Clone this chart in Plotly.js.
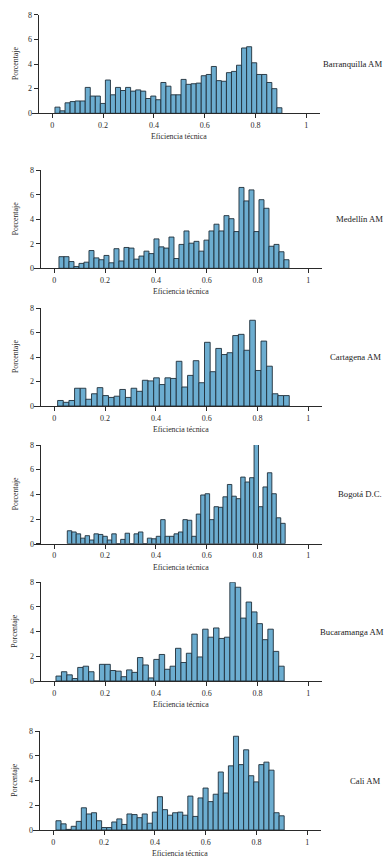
<!DOCTYPE html>
<html>
<head>
<meta charset="utf-8">
<script src="https://cdn.plot.ly/plotly-3.0.1.min.js"></script>
<style>html,body{margin:0;padding:0;background:#fff}#chart{width:392px;height:864px}</style>
</head>
<body>
<div id="chart"></div>
<script>
// ---- data (percent per bin) ----
const regions = ["Barranquilla AM", "Medellín AM", "Cartagena AM", "Bogotá D.C.", "Bucaramanga AM", "Cali AM"];
const barranquilla = [0.5,0.2,0.85,0.95,1.0,1.0,2.1,1.4,1.4,0.8,2.7,1.5,2.1,1.85,2.1,1.8,1.9,1.8,1.2,1.4,1.1,2.5,2.2,1.5,1.5,2.75,2.35,2.4,2.45,3.05,3.15,3.8,2.65,2.6,3.3,3.4,3.9,5.3,5.4,4.1,3.15,3.15,2.5,2.0,0.45];
const medellin = [0.95,0.95,0.55,0.15,0.4,0.5,1.45,0.85,0.7,1.05,0.45,1.6,0.6,1.7,1.65,0.75,1.0,1.4,1.2,2.4,1.75,1.65,2.55,0.8,1.95,3.05,2.05,2.2,1.4,2.3,3.05,3.6,3.05,4.3,4.05,3.0,6.6,5.5,6.4,3.0,5.6,4.9,1.8,1.95,1.35,0.7];
const cartagena = [0.45,0.3,0.45,1.45,1.45,0.55,1.0,1.5,0.85,0.7,0.8,1.35,0.7,1.45,1.2,2.1,2.05,2.3,1.75,2.3,2.25,3.65,1.55,2.5,3.7,1.9,5.2,2.8,4.7,4.2,4.35,5.75,5.85,4.55,7.0,2.9,5.3,3.25,1.0,0.85,0.85];
const bogota = [1.05,0.95,0.8,0.45,0.65,0.3,0.8,0.75,0.6,0.3,0.8,0,0.35,0.85,0,0.8,0.95,0,0.45,0.4,0.6,1.95,0.6,0.6,0.8,0.95,1.95,1.9,0.6,2.4,3.95,4.05,1.95,3.0,2.95,3.8,4.8,3.85,3.65,5.4,5.0,5.35,8.25,3.0,4.6,5.75,4.05,2.1,1.65];
const bucaramanga = [0.4,0.75,0.5,0.2,1.1,1.2,0.75,0,1.35,1.35,0.85,0.8,0.35,0.9,0.7,1.9,1.3,0.25,1.75,2.15,0.95,1.2,2.65,1.5,2.25,3.8,1.95,4.2,3.55,4.3,3.45,3.55,8.0,7.6,5.1,6.4,5.6,4.65,3.35,4.2,2.4,1.2];
const cali = [0.75,0.5,0.05,0.3,0.7,1.8,1.3,1.4,0.75,0.2,0.2,0.65,0.9,0.45,1.3,1.25,1.0,1.3,0.55,1.45,2.7,1.65,1.2,1.4,1.45,1.2,2.75,1.1,2.6,3.4,2.3,2.9,4.7,3.0,5.2,7.6,5.3,6.5,4.4,3.9,5.3,5.5,4.85,1.4,1.15];
const series = [barranquilla, medellin, cartagena, bogota, bucaramanga, cali];
// lower edge of the first bin and bin width of each histogram
const binStart = [0.0105, 0.0184, 0.0131, 0.0512, 0.0066, 0.0105];
const binEnd   = [0.904, 0.924, 0.925, 0.909, 0.905, 0.909];
const xTickVals = [0, 0.2, 0.4, 0.6, 0.8, 1];
const xTickText = ["0", "0.2", "0.4", "0.6", "0.8", "1"];
const yTickVals = [0, 2, 4, 6, 8];
const xTitle = "Eficiencia técnica";
const yTitle = "Porcentaje";

// ---- layout geometry (pixels) ----
const W = 392, H = 864;
const zeroPx = [52.3, 54.3, 54.3, 54.3, 54.3, 53.3];
const unitPx = 254;
const basePx = [113.3, 268.3, 406, 543.7, 681, 830];
const topPx  = [14.7, 170.3, 308, 445, 582.3, 731.3];
const labelX = [352, 359.5, 355.5, 359.5, 351.5, 365];
const xr = [-0.079, 1.054];
const yAxisAt = -0.058;

const serif = "Liberation Serif, Times New Roman, serif";
const ink = "#2a2a2a";
const traces = [];
const layout = {
  width: W, height: H,
  margin: {l: 0, r: 0, t: 0, b: 0},
  paper_bgcolor: "#ffffff", plot_bgcolor: "rgba(0,0,0,0)",
  showlegend: false, annotations: [],
  font: {family: serif, color: ink}
};

series.forEach((vals, k) => {
  const id = k === 0 ? "" : String(k + 1);
  const w = (binEnd[k] - binStart[k]) / vals.length;
  const xs = vals.map((_, i) => binStart[k] + (i + 0.5) * w);
  traces.push({
    type: "bar", x: xs, y: vals, width: w,
    xaxis: "x" + id, yaxis: "y" + id,
    marker: {color: "#6cadd0", line: {color: "#1f2f3a", width: 0.9}},
    cliponaxis: false, hoverinfo: "skip"
  });
  const left = zeroPx[k] + xr[0] * unitPx, right = zeroPx[k] + xr[1] * unitPx;
  layout["xaxis" + id] = {
    domain: [left / W, right / W], range: xr, anchor: "y" + id,
    showline: true, linecolor: ink, linewidth: 1,
    ticks: "outside", ticklen: 4, tickwidth: 1, tickcolor: ink,
    tickvals: xTickVals, ticktext: xTickText,
    tickfont: {family: serif, size: 8, color: ink},
    showgrid: false, zeroline: false, fixedrange: true
  };
  layout["yaxis" + id] = {
    domain: [1 - basePx[k] / H, 1 - topPx[k] / H], range: [0, 8],
    anchor: "free", position: (zeroPx[k] + yAxisAt * unitPx) / W,
    showline: true, linecolor: ink, linewidth: 1,
    ticks: "outside", ticklen: 4, tickwidth: 1, tickcolor: ink,
    tickvals: yTickVals, tickfont: {family: serif, size: 8, color: ink},
    showgrid: false, zeroline: false, fixedrange: true
  };
  const midY = (basePx[k] + topPx[k]) / 2;
  layout.annotations.push({
    xref: "paper", yref: "paper", x: 15 / W, y: 1 - midY / H,
    text: yTitle, textangle: -90, showarrow: false,
    xanchor: "center", yanchor: "middle",
    font: {family: serif, size: 7.8, color: ink}
  });
  layout.annotations.push({
    xref: "paper", yref: "paper", x: (zeroPx[k] + 0.5 * unitPx) / W, y: 1 - (basePx[k] + 23.5) / H,
    text: xTitle, showarrow: false, xanchor: "center", yanchor: "middle",
    font: {family: serif, size: 7.8, color: ink}
  });
  layout.annotations.push({
    xref: "paper", yref: "paper", x: labelX[k] / W, y: 1 - midY / H,
    text: regions[k], showarrow: false, xanchor: "center", yanchor: "middle",
    font: {family: serif, size: 8.7, color: "#1a1a1a"}
  });
});

Plotly.newPlot("chart", traces, layout, {staticPlot: true, displayModeBar: false});
</script>
</body>
</html>
